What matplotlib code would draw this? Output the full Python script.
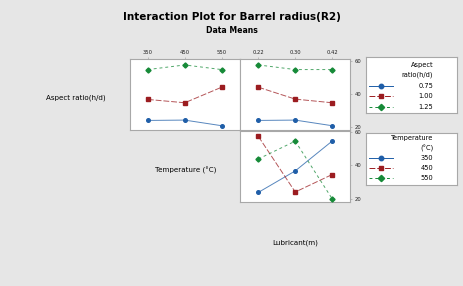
"""Interaction plot for barrel radius (R2), Minitab-style 3x3 matrix layout."""
import matplotlib
matplotlib.use("Agg")
import matplotlib.pyplot as plt
from matplotlib.lines import Line2D

W, H = 464, 286

# factor levels
TEMPS = ["350", "450", "550"]
LUBS = ["0.22", "0.30", "0.42"]
ARS = ["0.75", "1.00", "1.25"]

# means of R2
# aspect ratio (lines) vs temperature (x)
AR075_BY_TEMP = [23.8, 24.0, 20.6]
AR100_BY_TEMP = [36.5, 34.5, 43.9]
AR125_BY_TEMP = [54.6, 57.4, 54.6]
# aspect ratio (lines) vs lubricant (x)
AR075_BY_LUB = [23.8, 24.0, 20.6]
AR100_BY_LUB = [43.9, 36.7, 34.5]
AR125_BY_LUB = [57.4, 54.6, 54.6]
# temperature (lines) vs lubricant (x)
T350_BY_LUB = [23.8, 36.7, 54.6]
T450_BY_LUB = [57.4, 24.0, 34.5]
T550_BY_LUB = [43.9, 54.6, 20.0]

Y_TICKS = [20, 40, 60]

BG = "#e6e6e6"
EDGE = "#a8a8a8"
STYLES = [
    dict(color="#1f5ea8", marker="o", ms=2.6, ls="-", dashes=None),
    dict(color="#9b1c20", marker="s", ms=2.8, ls="--", dashes=(6, 2)),
    dict(color="#168a38", marker="D", ms=2.6, ls="--", dashes=(3, 3)),
]
FONT = "DejaVu Sans"
plt.rcParams["font.family"] = FONT


def fig_rect(x0, y0, x1, y1):
    return [x0 / W, 1 - y1 / H, (x1 - x0) / W, (y1 - y0) / H]


def draw_line(ax, xs, ys, st):
    line, = ax.plot(xs, ys, color=st["color"], linestyle=st["ls"],
                    linewidth=0.7, alpha=0.75, zorder=2)
    if st["dashes"]:
        line.set_dashes(st["dashes"])
    ax.plot(xs, ys, linestyle="none", marker=st["marker"],
            markersize=st["ms"], color=st["color"], zorder=3)


def panel(rect, series, xlabels, top_ticks, right_ticks):
    ax = fig.add_axes(rect)
    ax.set_facecolor("white")
    xs = list(range(len(xlabels)))
    for ys, st in zip(series, STYLES):
        draw_line(ax, xs, ys, st)
    ax.set_xlim(-0.5, 2.5)
    ax.set_ylim(18, 61)
    for s in ax.spines.values():
        s.set_color(EDGE)
        s.set_linewidth(0.8)
    ax.set_xticks(xs)
    ax.set_yticks(Y_TICKS)
    ax.tick_params(axis="both", labelsize=3.8, length=1.5, width=0.5,
                   color=EDGE, pad=1.5, labelcolor="#222222")
    ax.tick_params(axis="x", top=top_ticks, labeltop=top_ticks,
                   bottom=False, labelbottom=False)
    ax.tick_params(axis="y", right=right_ticks, labelright=right_ticks,
                   left=False, labelleft=False)
    ax.set_xticklabels(xlabels)
    return ax


def legend_box(rect, title_lines, labels, title_ys, row_ys):
    ax = fig.add_axes(rect)
    ax.set_facecolor("white")
    ax.set_xlim(0, 1)
    ax.set_ylim(0, 1)
    ax.set_xticks([])
    ax.set_yticks([])
    for s in ax.spines.values():
        s.set_color(EDGE)
        s.set_linewidth(0.8)
    for t, y in zip(title_lines, title_ys):
        ax.text(0.74, y, t, ha="right", va="center", fontsize=4.8)
    for lab, y, st in zip(labels, row_ys, STYLES):
        ln = Line2D([0.03, 0.30], [y, y], color=st["color"], linestyle=st["ls"],
                    linewidth=0.7)
        if st["dashes"]:
            ln.set_dashes(st["dashes"])
        ax.add_line(ln)
        ax.plot([0.165], [y], marker=st["marker"], markersize=st["ms"] + 0.6,
                color=st["color"], linestyle="none")
        ax.text(0.74, y, lab, ha="right", va="center", fontsize=4.8)


fig = plt.figure(figsize=(W / 100, H / 100), dpi=100, facecolor=BG)

fig.text(0.5, 1 - 17 / H, "Interaction Plot for Barrel radius(R2)",
         ha="center", va="center", fontsize=7.5, fontweight="bold")
fig.text(0.5, 1 - 31 / H, "Data Means", ha="center", va="center",
         fontsize=5.6, fontweight="bold")

panel(fig_rect(129.5, 59, 240, 130),
      [AR075_BY_TEMP, AR100_BY_TEMP, AR125_BY_TEMP], TEMPS, True, False)
panel(fig_rect(240, 59, 350.5, 130),
      [AR075_BY_LUB, AR100_BY_LUB, AR125_BY_LUB], LUBS, True, True)
panel(fig_rect(240, 130.5, 350.5, 202),
      [T350_BY_LUB, T450_BY_LUB, T550_BY_LUB], LUBS, False, True)

# diagonal factor names
fig.text(76 / W, 1 - 98 / H, "Aspect ratio(h/d)", ha="center", va="center",
         fontsize=5.1)
fig.text(186 / W, 1 - 170 / H, "Temperature (°C)", ha="center", va="center",
         fontsize=5.1)
fig.text(295 / W, 1 - 243 / H, "Lubricant(m)", ha="center", va="center",
         fontsize=5.1)

legend_box(fig_rect(366, 57, 457, 113), ["Aspect", "ratio(h/d)"], ARS,
           [0.857, 0.68], [0.49, 0.30, 0.107])
legend_box(fig_rect(366, 133, 457, 185), ["Temperature", "(°C)"], TEMPS,
           [0.91, 0.71], [0.52, 0.33, 0.13])

fig.savefig("out.png", dpi=100, facecolor=BG)
